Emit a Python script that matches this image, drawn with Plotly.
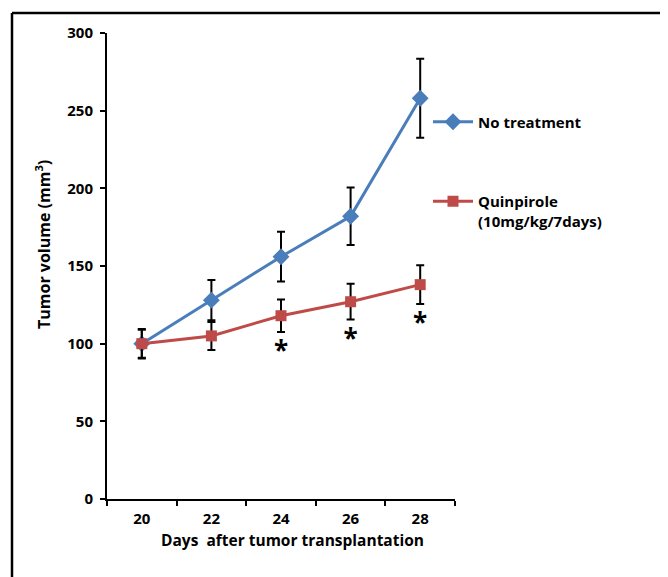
import plotly.graph_objects as go

days = ["20", "22", "24", "26", "28"]
no_treatment = [100, 128, 156, 182, 258]
no_treatment_err = [9, 13, 16, 18.5, 25.5]
quinpirole = [100, 105, 118, 127, 138]
quinpirole_err = [9.5, 9, 10.5, 11.5, 12.5]
significant = ["24", "26", "28"]

BLUE = "#4A7EBB"
RED = "#BE4B48"
FONT = "Open Sans"

# page has an 8px body margin; figure coordinates below are page coords minus 8
W, H = 660, 569
L, R, T, B = 99, 213, 25, 78
PW, PH = W - L - R, H - T - B

fig = go.Figure()

fig.add_trace(go.Scatter(
    x=days, y=no_treatment, name="No treatment",
    mode="lines+markers",
    line=dict(color=BLUE, width=3),
    marker=dict(symbol="diamond", size=13, color=BLUE),
    error_y=dict(type="data", array=no_treatment_err, color="black", thickness=2, width=4),
    legend="legend",
))
fig.add_trace(go.Scatter(
    x=days, y=quinpirole, name="Quinpirole<br>(10mg/kg/7days)",
    mode="lines+markers",
    line=dict(color=RED, width=3),
    marker=dict(symbol="square", size=11, color=RED),
    error_y=dict(type="data", array=quinpirole_err, color="black", thickness=2, width=4),
    legend="legend2",
))

STAR_GAP = 14
star_y = [quinpirole[days.index(d)] - quinpirole_err[days.index(d)] - STAR_GAP for d in significant]
fig.add_trace(go.Scatter(
    x=significant, y=star_y, mode="text", text=["*"] * len(significant),
    textposition="middle center", textfont=dict(size=26, color="black", family=FONT, weight="bold"),
    showlegend=False, hoverinfo="skip",
))

bold = dict(size=15, family=FONT, color="black", weight="bold")
LEG_X = (428 - 8 - L) / PW

fig.update_layout(
    width=W, height=H,
    margin=dict(l=L, r=R, t=T, b=B),
    paper_bgcolor="white", plot_bgcolor="white",
    font=dict(family=FONT, color="black", size=14),
    legend=dict(x=LEG_X, y=(T + PH - 114) / PH, xanchor="left", yanchor="middle", itemwidth=40,
                font=bold, bgcolor="rgba(0,0,0,0)", valign="top"),
    legend2=dict(x=LEG_X, y=(T + PH - 203) / PH, xanchor="left", yanchor="middle", itemwidth=40,
                 font=bold, bgcolor="rgba(0,0,0,0)", valign="top"),
    xaxis=dict(
        type="category", range=[-0.5, 4.5], tickson="boundaries",
        showline=True, linecolor="black", linewidth=2,
        ticks="outside", ticklen=5, tickwidth=2, tickcolor="black",
        showgrid=False, zeroline=False,
        tickfont=bold, ticklabelstandoff=5,
    ),
    yaxis=dict(
        range=[0, 300], tickvals=[0, 50, 100, 150, 200, 250, 300],
        showline=True, linecolor="black", linewidth=2,
        ticks="outside", ticklen=5, tickwidth=2, tickcolor="black",
        showgrid=False, zeroline=False,
        tickfont=bold, ticklabelstandoff=4,
    ),
    annotations=[
        dict(text="Days\u00a0 after tumor transplantation", xref="paper", yref="paper",
             x=(292 - 8 - L) / PW, y=(T + PH - (540 - 8)) / PH, xanchor="center", yanchor="middle",
             showarrow=False, font=dict(size=15.5, family=FONT, color="black", weight="bold")),
        dict(text="Tumor volume (mm<sup>3</sup>)", xref="paper", yref="paper", textangle=-90,
             x=(43 - 8 - L) / PW, y=(T + PH - (245 - 8)) / PH, xanchor="center", yanchor="middle",
             showarrow=False, font=dict(size=16, family=FONT, color="black", weight="bold")),
    ],
    shapes=[
        dict(type="line", xref="paper", yref="paper", x0=(4 - L) / PW, x1=(W - L) / PW,
             y0=(T + PH - 5) / PH, y1=(T + PH - 5) / PH, line=dict(color="black", width=2.5)),
        dict(type="line", xref="paper", yref="paper", x0=(4 - L) / PW, x1=(4 - L) / PW,
             y0=(T + PH - 5) / PH, y1=(T + PH - H) / PH, line=dict(color="black", width=2.5)),
    ],
)

fig.write_html("out.html")
